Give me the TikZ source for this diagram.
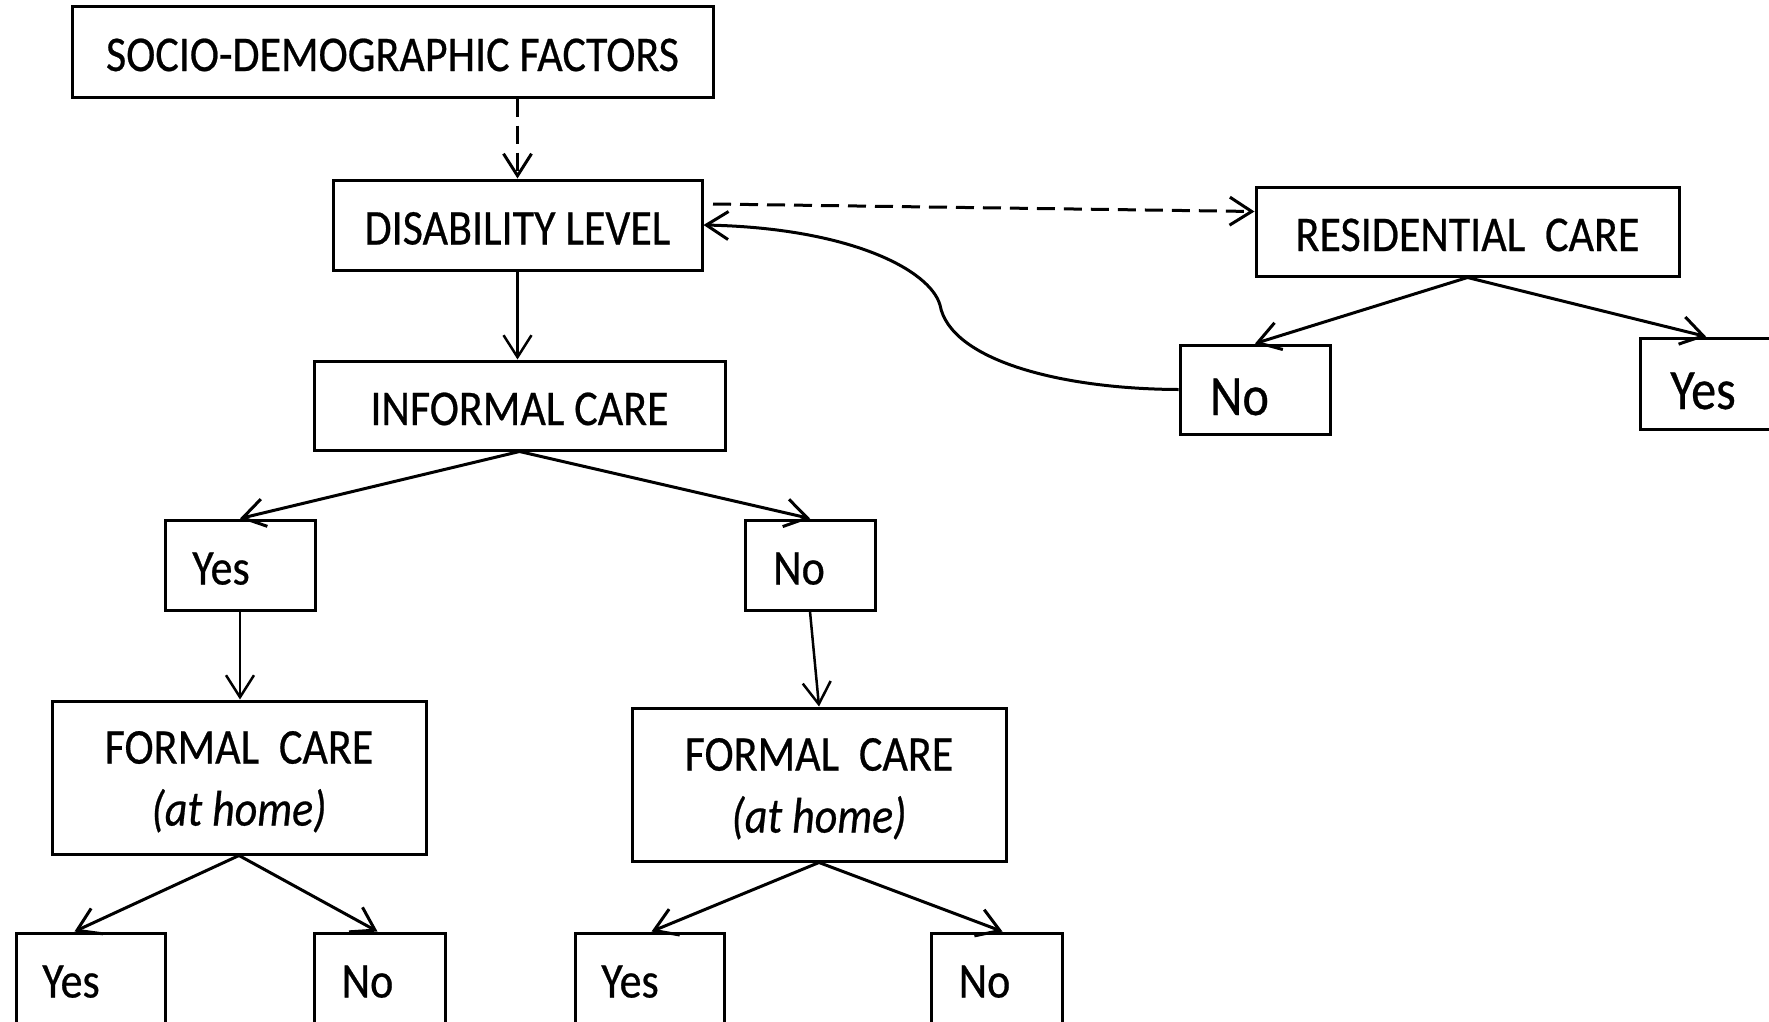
\documentclass[tikz,border=0pt]{standalone}
\usepackage{fontspec}
\setmainfont{Carlito}[FakeStretch=0.88,FakeBold=0.5]
\usetikzlibrary{arrows.meta,calc}
\begin{document}
\begin{tikzpicture}[x=1pt,y=-1pt,
  box/.style={draw,line width=3pt,rectangle,inner sep=0pt,align=center,font=\fontsize{50}{62}\selectfont},
  onel/.style={box,text height=39pt,text depth=0pt},
  bigbox/.style={box,text height=51pt,text depth=0pt,font=\fontsize{57}{66}\selectfont},
  arr/.style={line width=3pt,-{Straight Barb[length=22pt,width=28pt]}},
  thinarr/.style={arr,line width=2.5pt},
  dsh/.style={arr,dash pattern=on 18pt off 9pt},
]
\useasboundingbox (0,0) rectangle (1769,1021);
% nodes
\node[onel,minimum width=641pt,minimum height=91pt] (soc) at (392.5,51.5) {SOCIO-DEMOGRAPHIC FACTORS};
\node[onel,minimum width=369pt,minimum height=90pt] (dis) at (517.5,225) {DISABILITY LEVEL};
\node[onel,minimum width=423pt,minimum height=89pt] (res) at (1467.5,231.5) {RESIDENTIAL~~CARE};
\node[bigbox,minimum width=150pt,minimum height=89pt] (rno) at (1255,389.5) {No\hspace*{31pt}};
\node[bigbox,minimum width=150pt,minimum height=91pt] (ryes) at (1715,383.5) {Yes\hspace*{24pt}};
\node[onel,minimum width=411pt,minimum height=89pt] (inf) at (519.5,405.5) {INFORMAL CARE};
\node[onel,minimum width=150pt,minimum height=90pt] (iyes) at (240,565) {Yes\hspace*{38pt}};
\node[onel,minimum width=130pt,minimum height=90pt] (ino) at (810,565) {No\hspace*{22pt}};
\node[box,minimum width=374pt,minimum height=153pt] (f1) at (239,777.5) {\rule{0pt}{41pt}FORMAL~~CARE\\\textit{(at home)}};
\node[box,minimum width=374pt,minimum height=153pt] (f2) at (819,784.5) {\rule{0pt}{41pt}FORMAL~~CARE\\\textit{(at home)}};
\node[onel,minimum width=149pt,minimum height=90pt] (yes3) at (90.5,978) {Yes\hspace*{39pt}};
\node[onel,minimum width=131pt,minimum height=90pt] (no3) at (379.5,978) {No\hspace*{24pt}};
\node[onel,minimum width=149pt,minimum height=90pt] (yes4) at (649.5,978) {Yes\hspace*{39pt}};
\node[onel,minimum width=131pt,minimum height=90pt] (no4) at (996.5,978) {No\hspace*{24pt}};
\coordinate (d1) at (713,204);
% connectors
\draw[dsh] (soc.south -| dis.north) -- (dis.north);
\draw[dsh] (d1) -- ([yshift=20pt]res.west);
\draw[thinarr] (dis.south) -- (dis.south |- inf.north);
\draw[arr] (rno.west) .. controls (1060,389) and (950,360) .. (940,305)
  .. controls (930,270) and (850,228) .. (dis.east);
\draw[arr] (res.south) -- (rno.north);
\draw[arr] (res.south) -- ([xshift=-9pt]ryes.north);
\draw[arr] (inf.south) -- (iyes.north);
\draw[arr] (inf.south) -- (ino.north);
\draw[thinarr] (iyes.south) -- (iyes.south |- f1.north);
\draw[thinarr] (ino.south) -- (f2.north);
\draw[arr] (f1.south) -- ([xshift=-16pt]yes3.north);
\draw[arr] (f1.south) -- ([xshift=-2pt]no3.north);
\draw[arr] (f2.south) -- ([xshift=2pt]yes4.north);
\draw[arr] (f2.south) -- ([xshift=6pt]no4.north);
\end{tikzpicture}
\end{document}
